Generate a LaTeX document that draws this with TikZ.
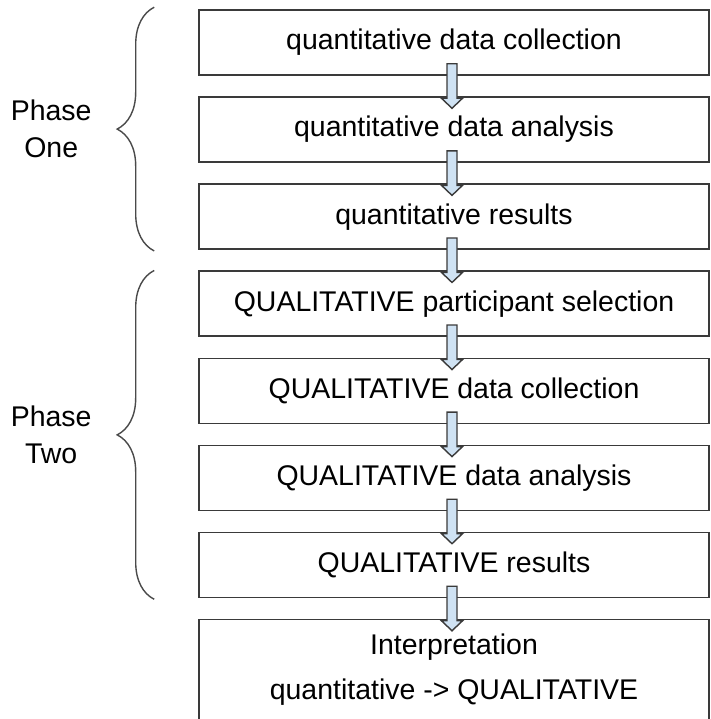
\documentclass[tikz,border=0pt]{standalone}
\usepackage{fontspec}
\setmainfont{Liberation Sans}
\usepackage{tikz}
\usetikzlibrary{positioning,calc,decorations.pathreplacing}
\definecolor{mmline}{HTML}{3A3A3A}
\definecolor{mmbrace}{HTML}{4A4A4A}
\definecolor{mmblue}{HTML}{CFE2F3}
\tikzset{
  stepBox/.style={draw=mmline, line width=0.9pt, minimum width=10.2cm, minimum height=1.3cm, align=center, inner sep=2pt, font=\fontsize{16.2}{25.5}\selectfont},
  flowArrow/.style={draw=mmline, line width=0.8pt, fill=mmblue, line join=miter},
  phaseBrace/.style={draw=mmbrace, line width=0.8pt, decorate, decoration={brace, amplitude=0.74cm}},
  phaseLabel/.style={font=\fontsize{16.2}{21}\selectfont, align=center}
}

\begin{document}
\begin{tikzpicture}[node distance=0.41cm]
  \useasboundingbox (0,0) rectangle (14.2,-14.38);
  \node[stepBox] (quanCol) at (9.08,-0.85) {quantitative data collection};
  \node[stepBox, below=of quanCol] (quanAna) {quantitative data analysis};
  \node[stepBox, below=of quanAna] (quanRes) {quantitative results};
  \node[stepBox, below=of quanRes] (qualSel) {QUALITATIVE participant selection};
  \node[stepBox, below=of qualSel] (qualCol) {QUALITATIVE data collection};
  \node[stepBox, below=of qualCol] (qualAna) {QUALITATIVE data analysis};
  \node[stepBox, below=of qualAna] (qualRes) {QUALITATIVE results};
  \node[stepBox, below=of qualRes, minimum height=2cm] (interp) {Interpretation\\quantitative -> QUALITATIVE};
  % block arrows between the steps
  \foreach \a/\b in {quanCol/quanAna,quanAna/quanRes,quanRes/qualSel,qualSel/qualCol,qualCol/qualAna,qualAna/qualRes,qualRes/interp}
    \draw[flowArrow] ($(\a.south)+(-0.14,0.24)$) -- ($(\b.north)+(-0.14,-0.04)$) -- ++(-0.11,0)
      -- ($(\b.north)+(-0.04,-0.24)$) -- ($(\b.north)+(0.17,-0.04)$) -- ++(-0.11,0)
      -- ($(\a.south)+(0.06,0.24)$) -- cycle;
  % phases
  \draw[phaseBrace] ($(quanRes.south west)+(-0.88,-0.02)$) -- ($(quanCol.north west)+(-0.88,0.04)$)
    node[midway, xshift=-2.06cm, phaseLabel] (phaseOne) {Phase\\One};
  \draw[phaseBrace] ($(qualRes.south west)+(-0.88,-0.02)$) -- ($(qualSel.north west)+(-0.88,0)$)
    node[midway, xshift=-2.06cm, phaseLabel] (phaseTwo) {Phase\\Two};
\end{tikzpicture}
\end{document}
